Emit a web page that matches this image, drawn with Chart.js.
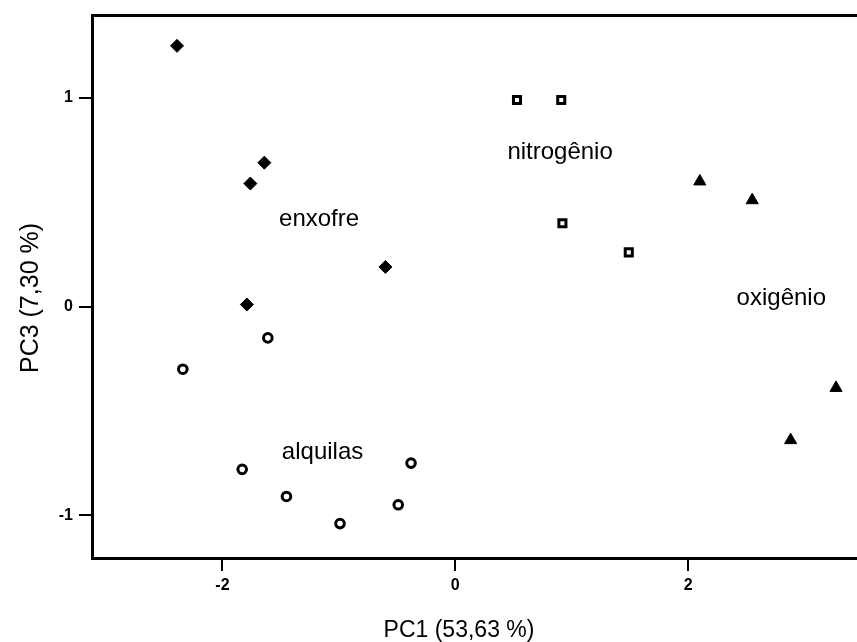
<!DOCTYPE html>
<html>
<head>
<meta charset="utf-8">
<script src="https://cdn.jsdelivr.net/npm/chart.js@4"></script>
<style>
  html, body { margin: 0; padding: 0; background: #ffffff; }
  canvas { display: block; }
</style>
</head>
<body>
<canvas id="c" width="857" height="642"></canvas>
<script>
// ---- data (PC1, PC3 scores) ----
const enxofrePC1 = [-2.39, -1.64, -1.76, -0.60, -1.79];
const enxofrePC3 = [1.25, 0.69, 0.59, 0.19, 0.01];

const nitrogenioPC1 = [0.53, 0.91, 0.92, 1.49];
const nitrogenioPC3 = [0.99, 0.99, 0.40, 0.26];

const oxigenioPC1 = [2.10, 2.55, 3.27, 2.88];
const oxigenioPC3 = [0.60, 0.51, -0.39, -0.64];

const alquilasPC1 = [-1.61, -2.34, -1.83, -1.45, -0.99, -0.38, -0.49];
const alquilasPC3 = [-0.15, -0.30, -0.78, -0.91, -1.04, -0.75, -0.95];

const groupNames = ['enxofre', 'nitrogênio', 'oxigênio', 'alquilas'];
const groupLabelPC1 = [-1.17, 0.90, 2.80, -1.14];
const groupLabelPC3 = [0.42, 0.74, 0.04, -0.70];

const xTickValues = [-2, 0, 2];
const yTickValues = [-1, 0, 1];
const xTitle = 'PC1 (53,63 %)';
const yTitle = 'PC3 (7,30 %)';

function pts(xs, ys) { return xs.map((x, i) => ({ x: x, y: ys[i] })); }

const FONT = '"Liberation Sans", Arial, sans-serif';

const annotationPlugin = {
  id: 'annotations',
  afterDraw(chart) {
    const { ctx, scales } = chart;
    ctx.save();
    ctx.fillStyle = '#000';
    // group labels, placed in data units
    ctx.font = '24px ' + FONT;
    ctx.textAlign = 'center';
    ctx.textBaseline = 'middle';
    groupNames.forEach((name, i) => {
      ctx.fillText(name, scales.x.getPixelForValue(groupLabelPC1[i]), scales.y.getPixelForValue(groupLabelPC3[i]));
    });
    // axis titles
    ctx.font = '23px ' + FONT;
    ctx.textBaseline = 'alphabetic';
    ctx.fillText(xTitle, 459, 637);
    ctx.translate(38, 298);
    ctx.rotate(-Math.PI / 2);
    ctx.font = '25px ' + FONT;
    ctx.fillText(yTitle, 0, 0);
    ctx.restore();
  }
};

const tickFont = { family: FONT, size: 16, weight: 'bold' };

new Chart(document.getElementById('c'), {
  type: 'scatter',
  data: {
    datasets: [
      { label: 'enxofre', data: pts(enxofrePC1, enxofrePC3), pointStyle: 'rectRot', radius: 6.5,
        backgroundColor: '#000', borderColor: '#000', borderWidth: 1 },
      { label: 'nitrogênio', data: pts(nitrogenioPC1, nitrogenioPC3), pointStyle: 'rect', radius: 5,
        backgroundColor: '#fff', borderColor: '#000', borderWidth: 3 },
      { label: 'nitrogênio-dot', data: pts(nitrogenioPC1, nitrogenioPC3), pointStyle: 'circle', radius: 0.8,
        backgroundColor: '#000', borderColor: '#000', borderWidth: 0 },
      { label: 'oxigênio', data: pts(oxigenioPC1, oxigenioPC3), pointStyle: 'triangle', radius: 7,
        backgroundColor: '#000', borderColor: '#000', borderWidth: 1 },
      { label: 'alquilas', data: pts(alquilasPC1, alquilasPC3), pointStyle: 'circle', radius: 4.3,
        backgroundColor: '#fff', borderColor: '#000', borderWidth: 3 },
      { label: 'alquilas-dot', data: pts(alquilasPC1, alquilasPC3), pointStyle: 'circle', radius: 0.9,
        backgroundColor: '#000', borderColor: '#000', borderWidth: 0 }
    ]
  },
  options: {
    responsive: false,
    animation: false,
    devicePixelRatio: 1,
    layout: { autoPadding: false, padding: { left: 0, right: 0, top: 0, bottom: 0 } },
    plugins: { legend: { display: false }, tooltip: { enabled: false } },
    scales: {
      x: {
        type: 'linear', position: 'bottom', min: -3.12, max: 3.45,
        afterBuildTicks: s => { s.ticks = xTickValues.map(v => ({ value: v })); },
        afterFit: s => { s.height = 84; },
        grid: { drawOnChartArea: false, drawTicks: true, tickLength: 13, color: '#000', lineWidth: 2 },
        border: { display: true, color: '#000', width: 3 },
        ticks: { color: '#000', font: tickFont, padding: 5, maxRotation: 0 }
      },
      x2: {
        type: 'linear', position: 'top', min: -3.12, max: 3.45,
        afterFit: s => { s.height = 12; },
        grid: { display: false },
        border: { display: true, color: '#000', width: 3 },
        ticks: { display: false }
      },
      y: {
        type: 'linear', position: 'left', min: -1.205, max: 1.395,
        afterBuildTicks: s => { s.ticks = yTickValues.map(v => ({ value: v })); },
        afterFit: s => { s.width = 92; },
        grid: { drawOnChartArea: false, drawTicks: true, tickLength: 13, color: '#000', lineWidth: 2 },
        border: { display: true, color: '#000', width: 3 },
        ticks: { color: '#000', font: tickFont, padding: 6 }
      }
    }
  },
  plugins: [annotationPlugin]
});
</script>
</body>
</html>
